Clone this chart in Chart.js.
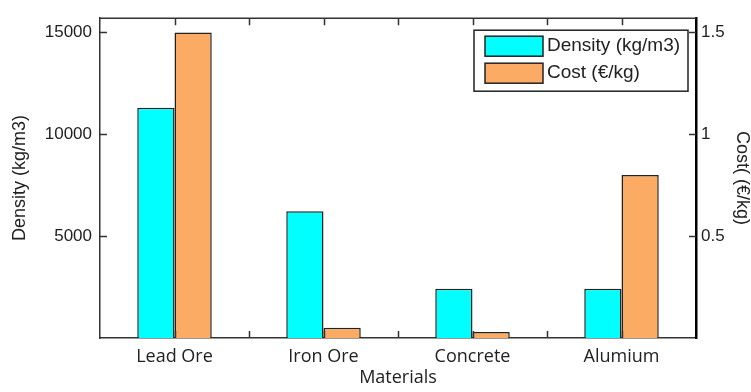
<!DOCTYPE html>
<html>
<head>
<meta charset="utf-8">
<script src="https://cdn.jsdelivr.net/npm/chart.js@4.4.1/dist/chart.umd.min.js"></script>
<style>
  body { margin: 0; background: #fff; }
  #wrap { width: 751px; height: 392px; position: relative; }
</style>
</head>
<body>
<div id="wrap"><canvas id="chart"></canvas></div>
<script>
const materials = ["Lead Ore", "Iron Ore", "Concrete", "Alumium"];
const density = [11300, 6220, 2420, 2420];
const cost = [1.5, 0.05, 0.03, 0.8];
const densityTicks = [5000, 10000, 15000];
const costTicks = [0.5, 1, 1.5];

const CYAN = "#00ffff";
const ORANGE = "#fbab64";
const EDGE = "#222222";
const TEXT = "#222222";

// ticks pointing into the plot, plus the top frame line
const frameTicks = {
  id: "frameTicks",
  afterDatasetsDraw(chart) {
    const ctx = chart.ctx;
    const a = chart.chartArea;
    const x = chart.scales.x;
    const y = chart.scales.y;
    const y1 = chart.scales.y1;
    ctx.save();
    ctx.strokeStyle = "#333";
    ctx.lineWidth = 1.5;
    ctx.beginPath();
    ctx.moveTo(a.left, a.top);
    ctx.lineTo(a.right, a.top);
    // category ticks at centres and half steps
    for (let i = 0; i < materials.length; i++) {
      [i, i + 0.5].forEach((v) => {
        if (v > materials.length - 1) return;
        const px = Math.round(x.getPixelForValue(v)) + 0.5;
        ctx.moveTo(px, a.top);
        ctx.lineTo(px, a.top + 7);
        ctx.moveTo(px, a.bottom);
        ctx.lineTo(px, a.bottom - 7);
      });
    }
    y.ticks.forEach((t) => {
      const py = Math.round(y.getPixelForValue(t.value)) + 0.5;
      ctx.moveTo(a.left, py);
      ctx.lineTo(a.left + 7, py);
    });
    y1.ticks.forEach((t) => {
      const py = Math.round(y1.getPixelForValue(t.value)) + 0.5;
      ctx.moveTo(a.right, py);
      ctx.lineTo(a.right - 7, py);
    });
    ctx.stroke();
    ctx.restore();
  },
};

// boxed legend in the upper right corner of the plot
const boxLegend = {
  id: "boxLegend",
  afterDraw(chart) {
    const ctx = chart.ctx;
    const a = chart.chartArea;
    const left = a.right - 222, top = a.top + 12, w = 214, h = 61;
    ctx.save();
    ctx.fillStyle = "#fff";
    ctx.fillRect(left, top, w, h);
    ctx.strokeStyle = "#222";
    ctx.lineWidth = 1.5;
    ctx.strokeRect(left, top, w, h);
    ctx.font = "19px 'Liberation Sans', Arial, sans-serif";
    ctx.textBaseline = "middle";
    chart.data.datasets.forEach((ds, i) => {
      const sy = top + 6 + i * 27;
      ctx.fillStyle = ds.backgroundColor;
      ctx.fillRect(left + 11, sy, 58, 20);
      ctx.strokeStyle = EDGE;
      ctx.lineWidth = 1.5;
      ctx.strokeRect(left + 11, sy, 58, 20);
      ctx.fillStyle = TEXT;
      ctx.fillText(ds.label, left + 73, sy + 10);
    });
    ctx.restore();
  },
};

new Chart(document.getElementById("chart"), {
  type: "bar",
  data: {
    labels: materials,
    datasets: [
      {
        label: "Density (kg/m3)",
        data: density,
        yAxisID: "y",
        backgroundColor: CYAN,
        borderColor: EDGE,
        borderWidth: 1.5,
        categoryPercentage: 0.5,
        barPercentage: 1.0,
      },
      {
        label: "Cost (€/kg)",
        data: cost,
        yAxisID: "y1",
        backgroundColor: ORANGE,
        borderColor: EDGE,
        borderWidth: 1.5,
        categoryPercentage: 0.5,
        barPercentage: 1.0,
      },
    ],
  },
  options: {
    responsive: true,
    maintainAspectRatio: false,
    animation: false,
    layout: { padding: { top: 7, left: 0, right: 0, bottom: 0 } },
    plugins: {
      legend: { display: false },
      tooltip: { enabled: false },
    },
    scales: {
      x: {
        grid: { display: false, drawTicks: false },
        border: { display: true, color: "#333", width: 1.5 },
        ticks: {
          color: TEXT,
          padding: 8,
          font: { family: "'Open Sans', sans-serif", size: 18 },
        },
        title: {
          display: true,
          text: "Materials",
          color: TEXT,
          padding: { top: 0, bottom: 3 },
          font: { family: "'Open Sans', sans-serif", size: 18 },
        },
        afterFit(scale) { scale.height = 54; },
      },
      y: {
        position: "left",
        min: 0,
        max: 15700,
        afterBuildTicks(scale) {
          scale.ticks = densityTicks.map((v) => ({ value: v }));
        },
        grid: { display: false, drawTicks: false },
        border: { display: true, color: "#333", width: 1.5 },
        ticks: {
          color: TEXT,
          padding: 8,
          font: { family: "'Liberation Sans', Arial, sans-serif", size: 17 },
          callback: (v) => String(v),
        },
        title: {
          display: true,
          text: "Density (kg/m3)",
          color: TEXT,
          padding: { top: 9, bottom: 0 },
          font: { family: "'Liberation Sans', Arial, sans-serif", size: 18 },
        },
        afterFit(scale) { scale.width = 100; },
      },
      y1: {
        position: "right",
        min: 0,
        max: 1.57,
        afterBuildTicks(scale) {
          scale.ticks = costTicks.map((v) => ({ value: v }));
        },
        grid: { display: false, drawTicks: false },
        border: { display: true, color: "#000", width: 2.5 },
        ticks: {
          color: TEXT,
          padding: 5,
          font: { family: "'Liberation Sans', Arial, sans-serif", size: 17 },
          callback: (v) => String(v),
        },
        title: {
          display: true,
          text: "Cost( (€/kg)",
          color: TEXT,
          padding: 0,
          font: { family: "'Liberation Sans', Arial, sans-serif", size: 18, lineHeight: 1 },
        },
        afterFit(scale) { scale.width = 55; },
      },
    },
  },
  plugins: [frameTicks, boxLegend],
});
</script>
</body>
</html>
